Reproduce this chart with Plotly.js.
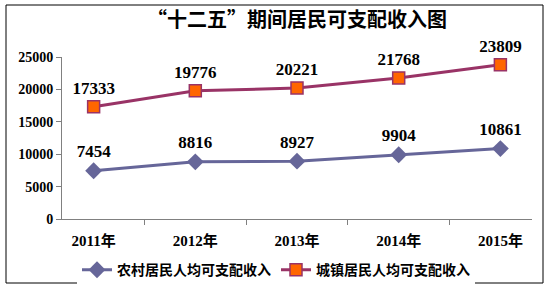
<!DOCTYPE html>
<html><head><meta charset="utf-8">
<script src="https://cdn.plot.ly/plotly-3.0.1.min.js"></script>
<style>html,body{margin:0;padding:0;background:#fff}#c{width:552px;height:289px}</style>
</head><body><div id="c"></div>
<script>
const years = ["2011年","2012年","2013年","2014年","2015年"];
const rural = [7454, 8816, 8927, 9904, 10861];
const urban = [17333, 19776, 20221, 21768, 23809];
const ruralName = "农村居民人均可支配收入";
const urbanName = "城镇居民人均可支配收入";
const titleText = "“十二五”期间居民可支配收入图";

const F = "'Liberation Serif', 'Noto Sans CJK SC', serif";
const traces = [
  {x: years, y: rural, name: ruralName, type: "scatter", mode: "lines+markers+text",
   line: {color: "#666699", width: 3}, marker: {symbol: "diamond", size: 13, color: "#666699"},
   text: rural.map(String), textposition: "top center", cliponaxis: false,
   textfont: {family: F, size: 17, color: "#000", weight: "bold"}},
  {x: years, y: urban, name: urbanName, type: "scatter", mode: "lines+markers+text",
   line: {color: "#993366", width: 3}, marker: {symbol: "square", size: 12, color: "#FF6600", line: {color: "#993366", width: 1.5}},
   text: urban.map(String), textposition: "top center", cliponaxis: false,
   textfont: {family: F, size: 17, color: "#000", weight: "bold"}}
];
const layout = {
  width: 552, height: 289,
  margin: {l: 62, r: 20, t: 57, b: 70},
  paper_bgcolor: "#fff", plot_bgcolor: "#fff",
  showlegend: true,
  title: {text: titleText, x: 0.5, xref: "paper", y: 0.93, yref: "container", yanchor: "middle",
    font: {family: "'Noto Sans CJK SC', sans-serif", size: 20, color: "#000", weight: "bold"}},
  xaxis: {type: "category", showgrid: false, showline: true, linecolor: "#808080", linewidth: 1,
    ticks: "outside", ticklen: 5, tickcolor: "#808080", tickson: "boundaries", automargin: false,
    ticklabelstandoff: 8,
    tickfont: {family: F, size: 15, color: "#000", weight: "bold"}, zeroline: false},
  yaxis: {range: [0, 25000], dtick: 5000, tickformat: "d", showgrid: false, showline: true, linecolor: "#808080", linewidth: 1,
    ticks: "outside", ticklen: 5, tickcolor: "#808080", zeroline: false, automargin: false,
    tickfont: {family: F, size: 14, color: "#000", weight: "bold"}},
  legend: {orientation: "h", x: 0.5, xanchor: "center", xref: "container", y: 0.065, yanchor: "middle", yref: "container",
    font: {family: F, size: 14, color: "#000", weight: "bold"}, itemwidth: 30, tracegroupgap: 0},
  shapes: [{type: "rect", xref: "paper", yref: "paper", x0: (6-62)/470, x1: (543-62)/470,
    y0: (219-283)/162, y1: (219-5)/162, line: {color: "#000", width: 1}, layer: "below"}]
};
Plotly.newPlot("c", traces, layout, {displayModeBar: false, staticPlot: true});
</script></body></html>
